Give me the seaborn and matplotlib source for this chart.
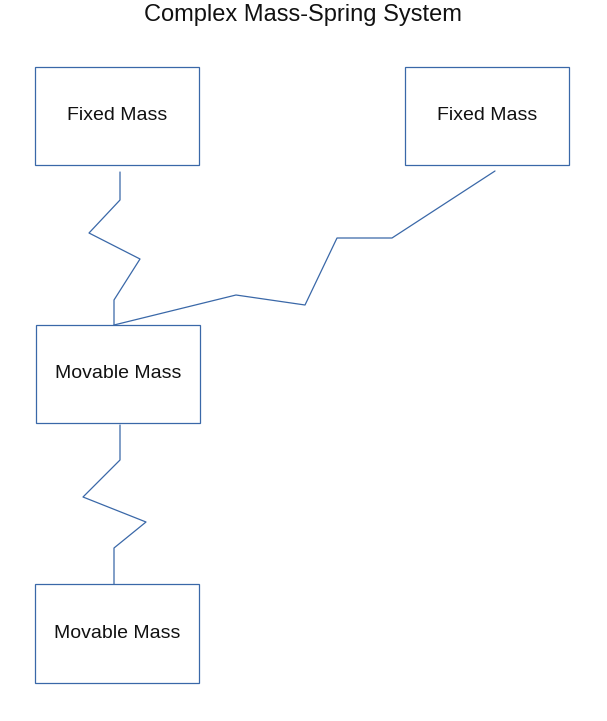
import matplotlib
matplotlib.use("Agg")
import matplotlib.pyplot as plt
import seaborn as sns
import pandas as pd

sns.set_theme(style="white")
plt.rcParams['font.family'] = ['Liberation Sans', 'DejaVu Sans']

# Boxes: label, left, top, right, bottom (pixel-space diagram coords)
box_labels = ["Fixed Mass", "Fixed Mass", "Movable Mass", "Movable Mass"]
box_left = [35, 405, 36, 35]
box_top = [67, 67, 325, 584]
box_right = [199, 569, 200, 199]
box_bottom = [165, 165, 423, 683]

# Springs as polylines
spring1_x = [120, 120, 89, 140, 114, 114]
spring1_y = [172, 200, 233, 259, 300, 325]
spring2_x = [495, 392, 337, 305, 236, 114]
spring2_y = [171, 238, 238, 305, 295, 325]
spring3_x = [120, 120, 83, 146, 114, 114]
spring3_y = [425, 460, 497, 522, 548, 584]

color = "#3a68a8"
fig = plt.figure(figsize=(6.07, 7.21), dpi=100)
ax = fig.add_axes([0, 0, 1, 1])
ax.set_xlim(0, 607)
ax.set_ylim(721, 0)
ax.axis("off")

for i, (sx, sy) in enumerate([(spring1_x, spring1_y), (spring2_x, spring2_y), (spring3_x, spring3_y)]):
    df = pd.DataFrame({"x": sx, "y": sy, "o": range(len(sx))})
    sns.lineplot(data=df, x="x", y="y", sort=False, estimator=None, color=color, lw=0.9, ax=ax)

for lab, l, t, r, b in zip(box_labels, box_left, box_top, box_right, box_bottom):
    ax.add_patch(plt.Rectangle((l, t), r - l, b - t, fill=False, ec=color, lw=0.9))
    ax.text((l + r) / 2, (t + b) / 2, lab, ha="center", va="center", fontsize=14, color="#111111")

ax.text(303, 15, "Complex Mass-Spring System", ha="center", va="center", fontsize=17, color="#111111")
ax.set_xlabel(""); ax.set_ylabel("")
fig.savefig("out.png", dpi=100)
